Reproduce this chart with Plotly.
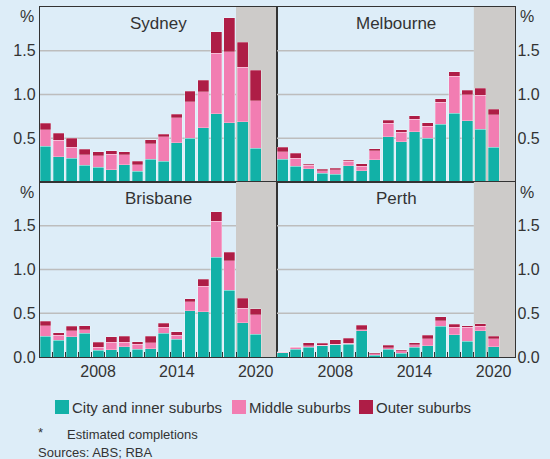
import plotly.graph_objects as go

years = list(range(2004, 2021))

sydney_city = [0.41, 0.29, 0.27, 0.19, 0.17, 0.14, 0.20, 0.125, 0.26, 0.235, 0.45, 0.50, 0.62, 0.78, 0.68, 0.69, 0.385]
sydney_middle = [0.19, 0.19, 0.13, 0.12, 0.13, 0.18, 0.11, 0.075, 0.175, 0.28, 0.285, 0.42, 0.41, 0.69, 0.81, 0.62, 0.545]
sydney_outer = [0.07, 0.08, 0.10, 0.065, 0.045, 0.04, 0.035, 0.04, 0.05, 0.03, 0.04, 0.12, 0.135, 0.25, 0.385, 0.285, 0.35]

melbourne_city = [0.26, 0.18, 0.15, 0.10, 0.09, 0.185, 0.13, 0.255, 0.515, 0.46, 0.575, 0.50, 0.66, 0.785, 0.70, 0.605, 0.40]
melbourne_middle = [0.085, 0.09, 0.04, 0.03, 0.05, 0.05, 0.05, 0.105, 0.155, 0.11, 0.145, 0.14, 0.25, 0.425, 0.30, 0.385, 0.37]
melbourne_outer = [0.055, 0.06, 0.015, 0.015, 0.015, 0.015, 0.03, 0.02, 0.035, 0.03, 0.035, 0.04, 0.04, 0.05, 0.05, 0.08, 0.06]

brisbane_city = [0.24, 0.19, 0.23, 0.27, 0.077, 0.085, 0.12, 0.09, 0.095, 0.27, 0.205, 0.53, 0.52, 1.14, 0.765, 0.39, 0.26]
brisbane_middle = [0.12, 0.06, 0.07, 0.04, 0.033, 0.085, 0.05, 0.055, 0.07, 0.07, 0.045, 0.10, 0.29, 0.41, 0.335, 0.17, 0.225]
brisbane_outer = [0.05, 0.03, 0.05, 0.045, 0.06, 0.06, 0.07, 0.03, 0.07, 0.045, 0.04, 0.035, 0.08, 0.11, 0.095, 0.11, 0.065]

perth_city = [0.046, 0.09, 0.11, 0.13, 0.14, 0.145, 0.30, 0.02, 0.09, 0.042, 0.11, 0.127, 0.35, 0.254, 0.18, 0.30, 0.115]
perth_middle = [0.008, 0.02, 0.02, 0.005, 0.005, 0.015, 0.01, 0.015, 0.015, 0.028, 0.03, 0.083, 0.065, 0.086, 0.16, 0.05, 0.095]
perth_outer = [0.004, 0.005, 0.035, 0.02, 0.05, 0.055, 0.055, 0.011, 0.03, 0.015, 0.025, 0.04, 0.045, 0.035, 0.015, 0.03, 0.03]

cities = ["Sydney", "Melbourne", "Brisbane", "Perth"]
series_names = ["City and inner suburbs", "Middle suburbs", "Outer suburbs"]
top_ticks = [0.5, 1.0, 1.5]
top_ticktext = ["0.5", "1.0", "1.5"]
bottom_ticks = [0.0, 0.5, 1.0, 1.5]
bottom_ticktext = ["0.0", "0.5", "1.0", "1.5"]
grid_vals = [0.5, 1.0, 1.5]
x_ticks = [2008, 2014, 2020]
estimate_start = 2018.5

data = {
    "Sydney": [sydney_city, sydney_middle, sydney_outer],
    "Melbourne": [melbourne_city, melbourne_middle, melbourne_outer],
    "Brisbane": [brisbane_city, brisbane_middle, brisbane_outer],
    "Perth": [perth_city, perth_middle, perth_outer],
}

colors = ["#12B1A7", "#F27DB2", "#AE1D46"]
BG = "#DDEDF8"
SHADE = "#CDCBC9"
TXT = "#333333"
GRID = "#BDBDBD"
FONT = "Liberation Sans, Arial, sans-serif"

W, H = 550, 459
def px(x):
    return x / W
def py(y):
    return 1 - y / H

xl0, xmid, xr1 = 40, 277, 515
yt0, ymid, yb1 = 7, 182, 357
xrange_ = [2003.58, 2021.62]

fig = go.Figure()

axes = [("x", "y", "Sydney"), ("x2", "y2", "Melbourne"), ("x3", "y3", "Brisbane"), ("x4", "y4", "Perth")]
for xa, ya, city in axes:
    for vals, name, col in zip(data[city], series_names, colors):
        fig.add_trace(go.Bar(
            x=years, y=vals, name=name, xaxis=xa, yaxis=ya,
            marker=dict(color=col, line=dict(color="rgba(255,255,255,0.35)", width=0.8)),
            width=0.83, showlegend=False, hoverinfo="skip",
        ))

frame = dict(showline=True, linecolor=TXT, linewidth=1.2, mirror=True, automargin=False)
common_x = dict(range=xrange_, showgrid=False, zeroline=False, fixedrange=True, **frame)
common_y = dict(range=[0, 2.0], showgrid=False, zeroline=False, fixedrange=True,
                ticks="", ticklen=0, tickfont=dict(size=16, color=TXT, family=FONT), **frame)
minor_x = dict(tickvals=[y + 0.5 for y in years[:-1]], ticks="inside", ticklen=5,
               tickcolor=TXT, tickwidth=1)

fig.update_layout(
    xaxis=dict(domain=[px(xl0), px(xmid)], anchor="y", showticklabels=False, ticks="", **common_x),
    xaxis2=dict(domain=[px(xmid), px(xr1)], anchor="y2", showticklabels=False, ticks="", **common_x),
    xaxis3=dict(domain=[px(xl0), px(xmid)], anchor="y3", tickvals=x_ticks, ticks="",
                tickfont=dict(size=16, color=TXT, family=FONT), minor=minor_x, **common_x),
    xaxis4=dict(domain=[px(xmid), px(xr1)], anchor="y4", tickvals=x_ticks, ticks="",
                tickfont=dict(size=16, color=TXT, family=FONT), minor=minor_x, **common_x),
    yaxis=dict(domain=[py(ymid), py(yt0)], anchor="x", tickvals=top_ticks, ticktext=top_ticktext, side="left", **common_y),
    yaxis2=dict(domain=[py(ymid), py(yt0)], anchor="x2", tickvals=top_ticks, ticktext=top_ticktext, side="right",
                ticklabelstandoff=-2, **common_y),
    yaxis3=dict(domain=[py(yb1), py(ymid)], anchor="x3", tickvals=bottom_ticks, ticktext=bottom_ticktext, side="left", **common_y),
    yaxis4=dict(domain=[py(yb1), py(ymid)], anchor="x4", tickvals=bottom_ticks, ticktext=bottom_ticktext, side="right",
                ticklabelstandoff=-2, **common_y),
    barmode="stack",
    width=W, height=H,
    margin=dict(l=0, r=0, t=0, b=0, autoexpand=False),
    paper_bgcolor=BG, plot_bgcolor=BG,
    font=dict(family=FONT, color=TXT),
)

shapes = []
annotations = []
for xa, ya, city in axes:
    shapes.append(dict(type="rect", xref=xa, yref=ya, x0=estimate_start, x1=xrange_[1],
                       y0=0, y1=2.0, fillcolor=SHADE, line=dict(width=0), layer="below"))
    for g in grid_vals:
        shapes.append(dict(type="line", xref=xa, yref=ya, x0=xrange_[0], x1=estimate_start,
                           y0=g, y1=g, line=dict(color=GRID, width=1.5), layer="below"))
    annotations.append(dict(text=city, xref=f"{xa} domain", yref=f"{ya} domain", x=0.5, y=0.97,
                            xanchor="center", yanchor="top", showarrow=False,
                            font=dict(size=17, color=TXT, family=FONT)))

# % unit labels
for (x, anchor) in [(36, "right"), (518, "left")]:
    for y in [16, 192]:
        annotations.append(dict(text="%", xref="paper", yref="paper", x=px(x), y=py(y),
                                xanchor=anchor, yanchor="middle", showarrow=False,
                                font=dict(size=16, color=TXT, family=FONT)))

# legend
leg_x = [55, 232, 359]
leg_y = 407
for lx, name, col in zip(leg_x, series_names, colors):
    shapes.append(dict(type="rect", xref="paper", yref="paper", x0=px(lx), x1=px(lx + 14),
                       y0=py(leg_y + 7), y1=py(leg_y - 7), fillcolor=col, line=dict(width=0)))
    annotations.append(dict(text=name, xref="paper", yref="paper", x=px(lx + 15), y=py(leg_y),
                            xanchor="left", yanchor="middle", showarrow=False,
                            font=dict(size=15, color=TXT, family=FONT)))

annotations.append(dict(text="*", xref="paper", yref="paper", x=px(36), y=py(432),
                        xanchor="left", yanchor="middle", showarrow=False,
                        font=dict(size=13, color=TXT, family=FONT)))
annotations.append(dict(text="Estimated completions", xref="paper", yref="paper", x=px(65), y=py(434),
                        xanchor="left", yanchor="middle", showarrow=False,
                        font=dict(size=13, color=TXT, family=FONT)))
annotations.append(dict(text="Sources: ABS; RBA", xref="paper", yref="paper", x=px(36), y=py(452),
                        xanchor="left", yanchor="middle", showarrow=False,
                        font=dict(size=13, color=TXT, family=FONT)))

fig.update_layout(shapes=shapes, annotations=annotations)
fig.write_html(
    "out.html",
    config={"displayModeBar": False, "staticPlot": True},
    post_script="document.body.style.margin='0';document.body.style.background='" + BG + "';",
)
